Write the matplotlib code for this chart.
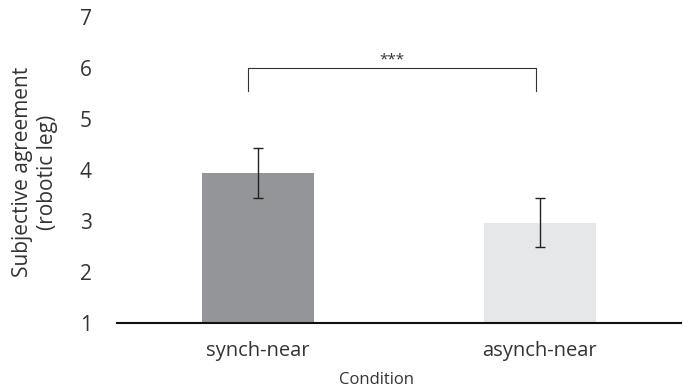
import numpy as np
import matplotlib
matplotlib.use("Agg")
import matplotlib.pyplot as plt

conditions = ["synch-near", "asynch-near"]
means = [3.95, 2.96]
err_low = [3.46, 2.48]
err_high = [4.44, 3.46]
bar_colors = ["#939598", "#e6e7e8"]
sig_label = "***"

plt.rcParams['font.family'] = ['Open Sans', 'DejaVu Sans']
text_col = "#333333"

fig = plt.figure(figsize=(6.92, 3.91), dpi=100)
ax = fig.add_axes([0.169, 0.174, 0.815, 0.7825])

x = np.arange(len(conditions))
m = np.array(means)
yerr = np.vstack([m - np.array(err_low), np.array(err_high) - m])
ax.bar(x, m - 1, bottom=1, width=0.4, color=bar_colors, zorder=1)
ax.errorbar(x, m, yerr=yerr, fmt='none', ecolor="#222222", elinewidth=1.0,
            capsize=3.5, capthick=1.0, zorder=2)

# significance bracket
bx0, bx1, btop, bbot = -0.035, 0.985, 6.0, 5.55
ax.plot([bx0, bx0, bx1, bx1], [bbot, btop, btop, bbot], color="#333333", lw=0.8)
ax.text((bx0 + bx1) / 2, btop + 0.02, sig_label, ha='center', va='bottom',
        fontsize=11, color=text_col)

ax.set_xlim(-0.5, 1.5)
ax.set_ylim(1, 7)
ax.set_yticks(range(1, 8))
ax.set_xticks(x)
ax.set_xticklabels(conditions)
for s in ['top', 'right', 'left']:
    ax.spines[s].set_visible(False)
ax.spines['bottom'].set_linewidth(1.5)
ax.spines['bottom'].set_color("#111111")
ax.tick_params(axis='y', length=0, pad=18, labelsize=15, labelcolor=text_col)
ax.tick_params(axis='x', length=0, pad=13, labelsize=14.5, labelcolor=text_col)
ax.set_xlabel("Condition", fontsize=12, color=text_col, va='center')
ax.xaxis.set_label_coords(0.46, -0.185)
ax.set_ylabel("Subjective agreement\n(robotic leg)", fontsize=15, color=text_col,
              linespacing=1.25, va='center', ha='center')
ax.yaxis.set_label_coords(-0.146, 0.493)

fig.savefig("out.png", dpi=100)
